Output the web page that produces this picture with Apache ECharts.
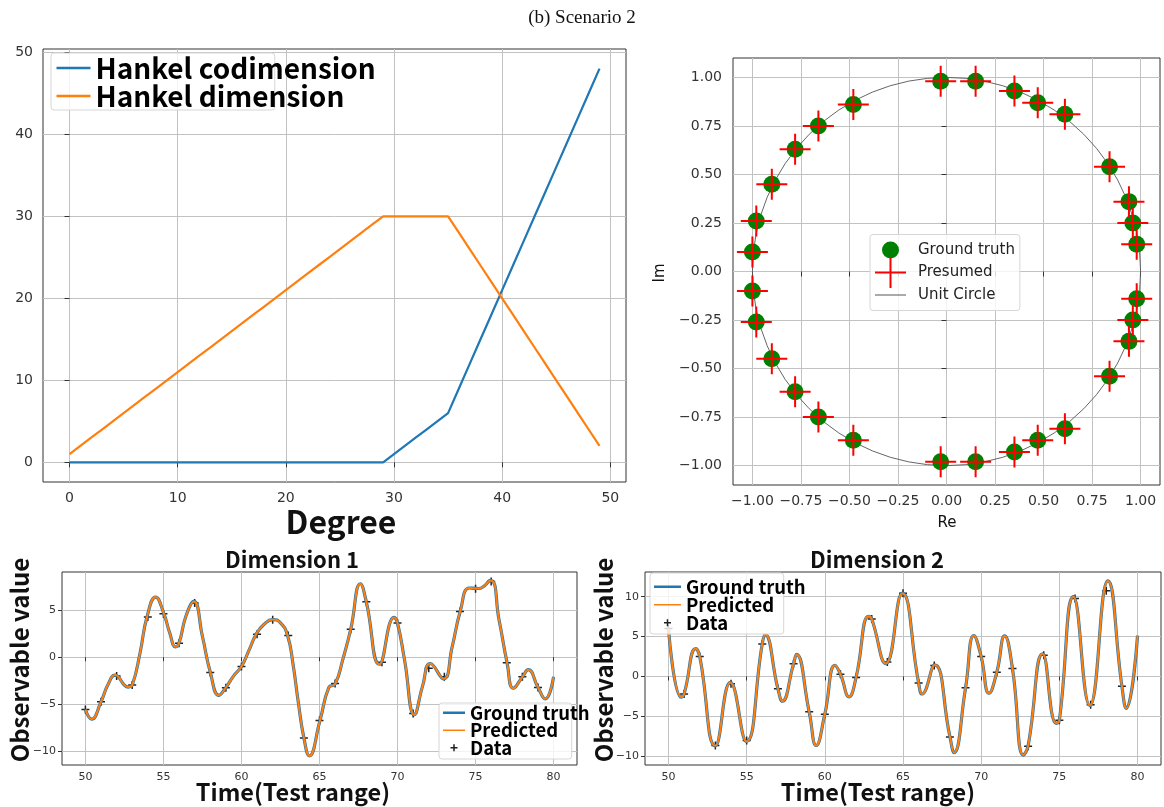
<!DOCTYPE html>
<html><head><meta charset="utf-8">
<script src="https://cdn.jsdelivr.net/npm/echarts@6/dist/echarts.min.js"></script>
<style>html,body{margin:0;padding:0;background:#fff}#c{width:1164px;height:807px}</style>
</head><body><div id="c"></div>
<script>
// ---------- Top-left: Hankel (co)dimension vs degree ----------
const degree = [0,1,2,3,4,5,6,7,8,9,10,11,12,13,14,15,16,17,18,19,20,21,22,23,24,25,26,27,28,29,30,31,32,33,34,35,36,37,38,39,40,41,42,43,44,45,46,47,48,49];
const hankelCodim = [0,0,0,0,0,0,0,0,0,0,0,0,0,0,0,0,0,0,0,0,0,0,0,0,0,0,0,0,0,0,1,2,3,4,5,6,9,12,15,18,21,24,27,30,33,36,39,42,45,48];
const hankelDim = [1,2,3,4,5,6,7,8,9,10,11,12,13,14,15,16,17,18,19,20,21,22,23,24,25,26,27,28,29,30,30,30,30,30,30,30,28,26,24,22,20,18,16,14,12,10,8,6,4,2];
const degreeTicks = [0,10,20,30,40,50];
const countTicks = [0,10,20,30,40,50];

// ---------- Top-right: eigenvalues on the unit circle ----------
const truthRe = [-0.03,0.15,0.35,0.47,0.61,0.84,0.94,0.96,0.98,-0.48,-0.66,-0.78,-0.90,-0.98,-1.00,-1.00,-0.98,-0.90,-0.78,-0.66,-0.48,-0.03,0.15,0.35,0.47,0.61,0.84,0.94,0.96,0.98];
const truthIm = [0.98,0.98,0.93,0.87,0.81,0.54,0.36,0.25,0.14,0.86,0.75,0.63,0.45,0.26,0.10,-0.10,-0.26,-0.45,-0.62,-0.75,-0.87,-0.98,-0.98,-0.93,-0.87,-0.81,-0.54,-0.36,-0.25,-0.14];
// presumed eigenvalues coincide with the ground truth at this resolution
const presumedRe = truthRe;
const presumedIm = truthIm;
const unitCircle = [[0, 0, 1]]; // centre re, centre im, radius
const reTicks = [-1,-0.75,-0.5,-0.25,0,0.25,0.5,0.75,1];
const imTicks = [-1,-0.75,-0.5,-0.25,0,0.25,0.5,0.75,1];

// ---------- Bottom: time series ----------
const timeTicks = [50,55,60,65,70,75,80];
const dim1Ticks = [-10,-5,0,5];
const dim2Ticks = [-10,-5,0,5,10];
const dataTime = [50,51,52,53,54,55,56,57,58,59,60,61,62,63,64,65,66,67,68,69,70,71,72,73,74,75,76,77,78,79];
const dim1Data = [-5.56,-4.74,-2.0,-2.96,4.26,4.61,1.48,5.75,-1.62,-3.25,-1.0,2.44,3.97,2.3,-8.58,-6.73,-2.79,2.97,5.89,-0.54,3.62,-5.98,-1.18,-2.07,4.86,7.27,8.05,-0.58,-2.07,-3.21];
const dim2Data = [6.0,-2.2,2.5,-8.67,-0.92,-8.04,4.08,-1.54,1.58,-4.42,-4.75,0.29,-0.13,7.21,1.83,10.42,-0.83,1.38,-7.58,-1.42,2.5,0.54,1.0,-8.75,2.67,-5.5,9.79,-3.54,10.75,-1.21];
const dim1CurveT = [50,50.4,51,51.45,51.9,52.74,53,53.5,53.95,54.5,55.02,55.4,55.78,56,56.45,56.95,57.5,58,58.56,59,59.5,60,60.5,60.95,61.45,62,62.5,62.95,63.3,63.65,64,64.35,65.03,65.6,66,66.5,67,67.62,68,68.84,69.78,70,70.45,71.08,71.6,72.1,72.95,73.5,74.02,74.6,75.2,75.95,76.5,77.02,77.42,78,78.38,79,79.46,80];
const dim1CurveV = [-5.55,-6.58,-4.73,-2.9,-1.9,-3.17,-2.96,0.45,4.3,6.39,4.66,2.6,1.1,1.5,4.4,5.92,2.2,-1.57,-4.05,-3.22,-1.98,-0.99,0.8,2.47,3.5,4.0,3.65,2.34,-0.7,-4.9,-8.57,-10.48,-6.74,-3.2,-2.85,-0.2,2.95,7.8,5.87,-0.75,4.22,3.62,-0.3,-6.1,-3.1,-0.67,-2.3,1.1,4.88,7.35,7.3,8.15,4.0,-0.6,-3.3,-2.1,-1.32,-3.2,-4.42,-2.08];
const dim2CurveT = [50,50.82,51,51.75,52,53.0,53.96,54.98,56,56.18,57,57.28,58,58.19,59,59.45,60,60.65,61,61.55,62,62.8,63,63.9,64.95,66,66.22,67.02,68,68.26,69,69.53,70,70.5,71,71.5,72,72.7,73,73.93,74.8,75,75.9,76.95,78.1,79,79.27,80];
const dim2CurveV = [6.0,-2.6,-2.2,3.5,2.5,-8.7,-0.75,-8.15,4.1,5.25,-1.54,-3.1,1.58,2.77,-4.44,-8.65,-4.73,1.4,0.3,-2.55,-0.12,7.55,7.2,1.62,10.45,-0.83,-2.2,1.45,-7.55,-9.55,-1.44,5.13,2.5,-2.1,0.54,5.08,1.0,-9.85,-8.7,2.84,-5.88,-5.5,10.0,-3.64,11.98,-1.23,-4.0,5.13];

// ---------- helpers (styling only) ----------
const zip = (a, b) => a.map((v, i) => [v, b[i]]);
const minusFmt = v => (v < 0 ? '\u2212' : '') + Math.abs(v);
const fmt2 = v => (v < 0 ? '\u2212' : '') + Math.abs(v).toFixed(2);
const BOLD = '"Noto Sans CJK JP", "Noto Sans", sans-serif';
const TICKF = '"DejaVu Sans", sans-serif';
const BLUE = '#1f77b4', ORANGE = '#ff7f0e';
const crossPath = 'path://M14.5,0L16.5,0L16.5,14.5L31,14.5L31,16.5L16.5,16.5L16.5,31L14.5,31L14.5,16.5L0,16.5L0,14.5L14.5,14.5Z';
const plusPath = 'path://M3.25,0L4.75,0L4.75,3.25L8,3.25L8,4.75L4.75,4.75L4.75,8L3.25,8L3.25,4.75L0,4.75L0,3.25L3.25,3.25Z';
function box(w, h) { return 'M0,0L0,0M' + w + ',' + h + 'L' + w + ',' + h; }
function lineIcon(w, h, t) { const y0 = h / 2 - t / 2, y1 = h / 2 + t / 2; return 'path://' + box(w, h) + 'M0,' + y0 + 'L' + w + ',' + y0 + 'L' + w + ',' + y1 + 'L0,' + y1 + 'Z'; }
function plusIcon(w, h, s, t) { const cx = w / 2, cy = h / 2, a = s / 2, b = t / 2;
  return 'path://' + box(w, h) + 'M' + (cx-b) + ',' + (cy-a) + 'L' + (cx+b) + ',' + (cy-a) + 'L' + (cx+b) + ',' + (cy-b) + 'L' + (cx+a) + ',' + (cy-b) + 'L' + (cx+a) + ',' + (cy+b) + 'L' + (cx+b) + ',' + (cy+b) + 'L' + (cx+b) + ',' + (cy+a) + 'L' + (cx-b) + ',' + (cy+a) + 'L' + (cx-b) + ',' + (cy+b) + 'L' + (cx-a) + ',' + (cy+b) + 'L' + (cx-a) + ',' + (cy-b) + 'L' + (cx-b) + ',' + (cy-b) + 'Z'; }
const circleIcon = 'path://' + box(38, 31) + 'M7,15.5A8.5,8.5,0,1,1,24,15.5A8.5,8.5,0,1,1,7,15.5Z';
const crossIcon = 'path://' + box(38, 31) + 'M14.5,0L16.5,0L16.5,14.5L31,14.5L31,16.5L16.5,16.5L16.5,31L14.5,31L14.5,16.5L0,16.5L0,14.5L14.5,14.5Z';
const circLineIcon = 'path://' + box(38, 31) + 'M0,15L31,15L31,16L0,16Z';

function axis(gi, min, max, ticks, fmt, fs, margin, tickLen) {
  return {
    type: 'value', gridIndex: gi, min: min, max: max,
    axisLine: { show: false },
    axisTick: { show: true, customValues: ticks, length: tickLen, lineStyle: { color: '#333', width: 1 } },
    axisLabel: { customValues: ticks, formatter: fmt, fontFamily: TICKF, fontSize: fs, color: '#333', margin: margin },
    splitLine: { show: true, lineStyle: { color: '#c2c2c2', width: 1 } }
  };
}
const gridStyle = { show: true, borderColor: '#333', borderWidth: 1, backgroundColor: 'transparent' };
const labels = {
  codim: 'Hankel codimension', dim: 'Hankel dimension',
  gt0: 'Ground truth', pres: 'Presumed', circ: 'Unit Circle',
  gt1: 'Ground truth', pr1: 'Predicted', da1: 'Data',
  gt2: 'Ground truth', pr2: 'Predicted', da2: 'Data'
};
const legendBase = { orient: 'vertical', selectedMode: false, backgroundColor: 'rgba(255,255,255,0.8)', borderColor: '#d6d6d6', borderWidth: 1, borderRadius: 3, formatter: n => labels[n] };
const bottomText = { fontFamily: BOLD, fontWeight: 'bold', fontSize: 18.5, color: '#000' };

function gtxt(text, x, y, font, rot) {
  return { type: 'text', x: x, y: y, rotation: rot || 0, silent: true,
    style: { text: text, font: font, fill: '#111', align: 'center', verticalAlign: 'middle' } };
}

const option = {
  animation: false,
  grid: [
    Object.assign({ left: 43, top: 49, width: 583, height: 433 }, gridStyle),
    Object.assign({ left: 733, top: 58, width: 427, height: 427 }, gridStyle),
    Object.assign({ left: 62, top: 572, width: 515, height: 193 }, gridStyle),
    Object.assign({ left: 645, top: 572, width: 516, height: 193 }, gridStyle)
  ],
  xAxis: [
    axis(0, -2.45, 51.45, degreeTicks, v => String(v), 14, 9, 5),
    axis(1, -1.1, 1.1, reTicks, fmt2, 14, 9, 5),
    axis(2, 48.5, 81.5, timeTicks, v => String(v), 11, 7, 4),
    axis(3, 48.5, 81.5, timeTicks, v => String(v), 11, 7, 4)
  ],
  yAxis: [
    axis(0, -2.4, 50.4, countTicks, v => String(v), 14, 10, 5),
    axis(1, -1.1, 1.1, imTicks, fmt2, 14, 11, 5),
    axis(2, -11.45, 9.05, dim1Ticks, minusFmt, 11, 6, 4),
    axis(3, -11.1, 13.1, dim2Ticks, minusFmt, 11, 6, 4)
  ],
  legend: [
    Object.assign({}, legendBase, {
      left: 51, top: 53, itemWidth: 34, itemHeight: 24, itemGap: 0, padding: [1, -101, 0, 5.5],
      textStyle: { fontFamily: BOLD, fontWeight: 'bold', fontSize: 28, color: '#000' },
      data: [{ name: 'codim', icon: lineIcon(34, 24, 2.5) }, { name: 'dim', icon: lineIcon(34, 24, 2.5) }]
    }),
    Object.assign({}, legendBase, {
      left: 870, top: 234.5, itemWidth: 38, itemHeight: 31, itemGap: -8.5, padding: [0, 5, 0, 5],
      textStyle: { fontFamily: TICKF, fontSize: 15, color: '#222' },
      data: [{ name: 'gt0', icon: circleIcon }, { name: 'pres', icon: crossIcon }, { name: 'circ', icon: circLineIcon }]
    }),
    Object.assign({}, legendBase, {
      left: 439, top: 703, itemWidth: 22, itemHeight: 17.5, itemGap: -1, padding: [0.5, -18, 2, 4],
      textStyle: bottomText,
      data: [{ name: 'gt1', icon: lineIcon(22, 17.5, 2.5) }, { name: 'pr1', icon: lineIcon(22, 17.5, 1.5) }, { name: 'da1', icon: plusIcon(22, 17.5, 7, 1.5) }]
    }),
    Object.assign({}, legendBase, {
      left: 650, top: 573, itemWidth: 27, itemHeight: 18, itemGap: -0.5, padding: [4.5, -22, 2, 4],
      textStyle: bottomText,
      data: [{ name: 'gt2', icon: lineIcon(27, 18, 2.5) }, { name: 'pr2', icon: lineIcon(27, 18, 1.5) }, { name: 'da2', icon: plusIcon(27, 18, 7, 1.5) }]
    })
  ],
  graphic: [
    gtxt('(b) Scenario 2', 582, 18, '19px "Liberation Serif", serif'),
    gtxt('Degree', 341, 522, 'bold 32px ' + BOLD),
    gtxt('Re', 947, 523, '15px ' + TICKF),
    gtxt('Im', 660, 273, '15px ' + TICKF, Math.PI / 2),
    gtxt('Dimension 1', 292, 560, 'bold 22px ' + BOLD),
    gtxt('Dimension 2', 877, 560, 'bold 22px ' + BOLD),
    gtxt('Observable value', 20, 660, 'bold 24px ' + BOLD, Math.PI / 2),
    gtxt('Observable value', 604, 660, 'bold 24px ' + BOLD, Math.PI / 2),
    gtxt('Time(Test range)', 293, 792, 'bold 23.5px ' + BOLD),
    gtxt('Time(Test range)', 878, 792, 'bold 23.5px ' + BOLD)
  ],
  series: [
    { name: 'codim', type: 'line', xAxisIndex: 0, yAxisIndex: 0, data: zip(degree, hankelCodim), symbol: 'none', silent: true,
      lineStyle: { color: BLUE, width: 2.2 }, itemStyle: { color: BLUE } },
    { name: 'dim', type: 'line', xAxisIndex: 0, yAxisIndex: 0, data: zip(degree, hankelDim), symbol: 'none', silent: true,
      lineStyle: { color: ORANGE, width: 2.2 }, itemStyle: { color: ORANGE } },

    { name: 'gt0', type: 'scatter', xAxisIndex: 1, yAxisIndex: 1, data: zip(truthRe, truthIm), symbol: 'circle', symbolSize: 17, silent: true,
      itemStyle: { color: '#008000', opacity: 1 } },
    { name: 'circ', type: 'custom', xAxisIndex: 1, yAxisIndex: 1, data: unitCircle, silent: true, encode: { x: 0, y: 1 },
      itemStyle: { color: '#555' },
      renderItem: function (params, api) {
        const c = api.coord([api.value(0), api.value(1)]);
        const s = api.size([api.value(2), api.value(2)]);
        return { type: 'circle', shape: { cx: c[0], cy: c[1], r: (s[0] + s[1]) / 2 }, style: { fill: 'none', stroke: '#555', lineWidth: 0.9 } };
      } },
    { name: 'pres', type: 'scatter', xAxisIndex: 1, yAxisIndex: 1, data: zip(presumedRe, presumedIm), symbol: crossPath, symbolSize: 31, silent: true,
      itemStyle: { color: '#ff0000', opacity: 1 } },

    { name: 'gt1', type: 'line', xAxisIndex: 2, yAxisIndex: 2, data: zip(dim1CurveT, dim1CurveV), symbol: 'none', smooth: 0.5, silent: true,
      lineStyle: { color: BLUE, width: 3.2 }, itemStyle: { color: BLUE } },
    { name: 'pr1', type: 'line', xAxisIndex: 2, yAxisIndex: 2, data: zip(dim1CurveT, dim1CurveV), symbol: 'none', smooth: 0.5, silent: true,
      lineStyle: { color: ORANGE, width: 2 }, itemStyle: { color: ORANGE } },
    { name: 'da1', type: 'scatter', xAxisIndex: 2, yAxisIndex: 2, data: zip(dataTime, dim1Data), symbol: plusPath, symbolSize: 8, silent: true,
      itemStyle: { color: '#222', opacity: 1 } },

    { name: 'gt2', type: 'line', xAxisIndex: 3, yAxisIndex: 3, data: zip(dim2CurveT, dim2CurveV), symbol: 'none', smooth: 0.5, silent: true,
      lineStyle: { color: BLUE, width: 3.2 }, itemStyle: { color: BLUE } },
    { name: 'pr2', type: 'line', xAxisIndex: 3, yAxisIndex: 3, data: zip(dim2CurveT, dim2CurveV), symbol: 'none', smooth: 0.5, silent: true,
      lineStyle: { color: ORANGE, width: 2 }, itemStyle: { color: ORANGE } },
    { name: 'da2', type: 'scatter', xAxisIndex: 3, yAxisIndex: 3, data: zip(dataTime, dim2Data), symbol: plusPath, symbolSize: 8, silent: true,
      itemStyle: { color: '#222', opacity: 1 } }
  ]
};
const chart = echarts.init(document.getElementById('c'), null, { renderer: 'canvas' });
chart.setOption(option);
</script>
</body></html>
